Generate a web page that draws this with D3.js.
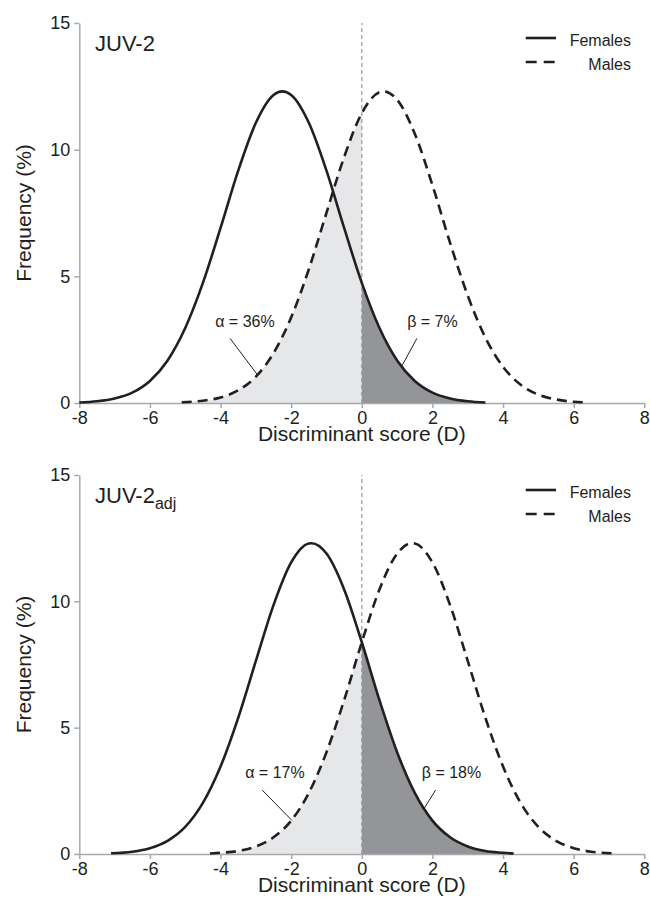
<!DOCTYPE html>
<html>
<head>
<meta charset="utf-8">
<script src="https://cdn.jsdelivr.net/npm/d3@7"></script>
<style>
  body { margin: 0; background: #fff; }
  svg { display: block; font-family: "Liberation Sans", Arial, sans-serif; }
</style>
</head>
<body>
<div id="chart"></div>
<script>
// Values (discriminant score D, frequency %)
const xTicks = [-8, -6, -4, -2, 0, 2, 4, 6, 8];
const yTicks = [0, 5, 10, 15];

// JUV-2
const juvFemaleX = [-8.0, -7.5, -7.0, -6.5, -6.0, -5.5, -5.0, -4.5, -4.0, -3.5, -3.0, -2.5, -2.25, -2.0, -1.5, -1.0, -0.5, 0, 0.5, 1.0, 1.5, 2.0, 2.5, 3.0, 3.5];
const juvFemaleY = [0.02, 0.07, 0.18, 0.41, 0.87, 1.68, 2.96, 4.74, 6.91, 9.17, 11.06, 12.16, 12.3, 12.16, 11.06, 9.17, 6.91, 4.74, 2.96, 1.68, 0.87, 0.41, 0.18, 0.07, 0.02];
const juvMaleX = [-5.1, -4.5, -4.0, -3.5, -3.0, -2.5, -2.0, -1.5, -1.0, -0.5, 0, 0.5, 0.62, 1.0, 1.5, 2.0, 2.5, 3.0, 3.5, 4.0, 4.5, 5.0, 5.5, 6.0, 6.3];
const juvMaleY = [0.03, 0.09, 0.22, 0.50, 1.04, 1.97, 3.38, 5.28, 7.51, 9.71, 11.44, 12.27, 12.3, 11.97, 10.63, 8.60, 6.32, 4.24, 2.58, 1.43, 0.72, 0.33, 0.14, 0.05, 0.03];

// JUV-2adj
const adjFemaleX = [-7.1, -6.5, -6.0, -5.5, -5.0, -4.5, -4.0, -3.5, -3.0, -2.5, -2.0, -1.5, -1.42, -1.0, -0.5, 0, 0.5, 1.0, 1.5, 2.0, 2.5, 3.0, 3.5, 4.0, 4.3];
const adjFemaleY = [0.03, 0.09, 0.23, 0.52, 1.07, 2.02, 3.46, 5.39, 7.64, 9.85, 11.54, 12.29, 12.3, 11.89, 10.47, 8.38, 6.09, 4.03, 2.42, 1.32, 0.66, 0.30, 0.12, 0.05, 0.02];
const adjMaleX = [-4.3, -4.0, -3.5, -3.0, -2.5, -2.0, -1.5, -1.0, -0.5, 0, 0.5, 1.0, 1.42, 1.5, 2.0, 2.5, 3.0, 3.5, 4.0, 4.5, 5.0, 5.5, 6.0, 6.5, 7.1];
const adjMaleY = [0.02, 0.05, 0.12, 0.30, 0.66, 1.32, 2.42, 4.03, 6.09, 8.38, 10.47, 11.89, 12.3, 12.29, 11.54, 9.85, 7.64, 5.39, 3.46, 2.02, 1.07, 0.52, 0.23, 0.09, 0.03];

const errorLabels = ['\u03b1 = 36%', '\u03b2 = 7%', '\u03b1 = 17%', '\u03b2 = 18%'];

const width = 650;
const height = 900;
const ink = '#231f20';
const axisGrey = '#a7a9ac';

const svg = d3.select('#chart')
    .append('svg')
    .attr('width', width)
    .attr('height', height);

const x = d3.scaleLinear().domain([-8, 8]).range([79.3, 644.3]);

function zip(xs, ys) {
    return xs.map((v, i) => ({ x: v, y: ys[i] }));
}

function drawPanel(cfg) {
    const y = d3.scaleLinear().domain([0, 15]).range([cfg.bottom, cfg.top]);
    const g = svg.append('g');

    const female = zip(cfg.femaleX, cfg.femaleY);
    const male = zip(cfg.maleX, cfg.maleY);

    const line = d3.line().x(d => x(d.x)).y(d => y(d.y)).curve(d3.curveMonotoneX);
    const area = d3.area().x(d => x(d.x)).y0(y(0)).y1(d => y(d.y)).curve(d3.curveMonotoneX);

    // alpha: males left of the cut-off, beta: females right of it
    g.append('path')
        .datum(male.filter(d => d.x <= 0))
        .attr('d', area)
        .attr('fill', '#e6e7e8');
    g.append('path')
        .datum(female.filter(d => d.x >= 0))
        .attr('d', area)
        .attr('fill', '#939598');

    // axes (plain hyphen minus like the original)
    const xAxis = g.append('g')
        .attr('transform', `translate(0,${cfg.bottom})`)
        .call(d3.axisBottom(x).tickValues(xTicks).tickFormat(d => String(d))
            .tickSize(5).tickSizeOuter(0).tickPadding(3));
    const yAxis = g.append('g')
        .attr('transform', `translate(${x(-8)},0)`)
        .call(d3.axisLeft(y).tickValues(yTicks).tickFormat(d => String(d))
            .tickSize(5).tickSizeOuter(0).tickPadding(4));
    [xAxis, yAxis].forEach(a => {
        a.select('.domain').attr('stroke', axisGrey).attr('stroke-width', 1.5);
        a.selectAll('.tick line').attr('stroke', axisGrey).attr('stroke-width', 1.5);
        a.selectAll('.tick text')
            .attr('fill', ink)
            .attr('font-size', '18px')
            .attr('font-family', '"Liberation Sans", Arial, sans-serif');
    });

    // cut-off line at D = 0
    g.append('line')
        .attr('x1', x(0)).attr('x2', x(0))
        .attr('y1', y(0)).attr('y2', y(15))
        .attr('stroke', '#9a9a9a')
        .attr('stroke-width', 1.2)
        .attr('stroke-dasharray', '4,3');

    // curves
    g.append('path')
        .datum(female)
        .attr('d', line)
        .attr('fill', 'none')
        .attr('stroke', ink)
        .attr('stroke-width', 2.6);
    g.append('path')
        .datum(male)
        .attr('d', line)
        .attr('fill', 'none')
        .attr('stroke', ink)
        .attr('stroke-width', 2.6)
        .attr('stroke-dasharray', '10,6');

    // error rate labels with leader lines
    cfg.notes.forEach(n => {
        g.append('text')
            .attr('x', x(n.tx))
            .attr('y', y(3.0))
            .attr('text-anchor', 'middle')
            .attr('font-size', '16px')
            .attr('fill', ink)
            .text(n.label);
        g.append('line')
            .attr('x1', x(n.from[0])).attr('y1', y(n.from[1]))
            .attr('x2', x(n.to[0])).attr('y2', y(n.to[1]))
            .attr('stroke', ink)
            .attr('stroke-width', 1);
    });

    // panel title
    const title = g.append('text')
        .attr('x', 95)
        .attr('y', cfg.top + 28)
        .attr('font-size', '22px')
        .attr('fill', ink)
        .text(cfg.title);
    if (cfg.sub) {
        title.append('tspan')
            .attr('dy', 6)
            .attr('font-size', '16px')
            .text(cfg.sub);
    }

    // legend
    const legend = [
        { name: 'Females', dash: null, dy: 15 },
        { name: 'Males', dash: '11,7', dy: 39 }
    ];
    legend.forEach(l => {
        g.append('line')
            .attr('x1', 525.7).attr('x2', 556)
            .attr('y1', cfg.top + l.dy).attr('y2', cfg.top + l.dy)
            .attr('stroke', ink)
            .attr('stroke-width', 2.6)
            .attr('stroke-dasharray', l.dash);
        g.append('text')
            .attr('x', 631)
            .attr('y', cfg.top + l.dy + 8)
            .attr('text-anchor', 'end')
            .attr('font-size', '16px')
            .attr('fill', ink)
            .text(l.name);
    });

    // axis titles
    g.append('text')
        .attr('x', x(0))
        .attr('y', cfg.bottom + 38)
        .attr('text-anchor', 'middle')
        .attr('font-size', '21px')
        .attr('fill', ink)
        .text('Discriminant score (D)');
    g.append('text')
        .attr('transform', `translate(31,${(cfg.top + cfg.bottom) / 2}) rotate(-90)`)
        .attr('text-anchor', 'middle')
        .attr('font-size', '21px')
        .attr('fill', ink)
        .text('Frequency (%)');
}

drawPanel({
    top: 23, bottom: 403, title: 'JUV-2', sub: null,
    femaleX: juvFemaleX, femaleY: juvFemaleY, maleX: juvMaleX, maleY: juvMaleY,
    notes: [
        { label: errorLabels[0], tx: -3.31, from: [-3.73, 2.55], to: [-2.96, 1.12] },
        { label: errorLabels[1], tx: 2.0, from: [1.56, 2.55], to: [1.13, 1.45] }
    ]
});

drawPanel({
    top: 475, bottom: 854, title: 'JUV-2', sub: 'adj',
    femaleX: adjFemaleX, femaleY: adjFemaleY, maleX: adjMaleX, maleY: adjMaleY,
    notes: [
        { label: errorLabels[2], tx: -2.46, from: [-2.82, 2.53], to: [-1.98, 1.33] },
        { label: errorLabels[3], tx: 2.54, from: [2.09, 2.53], to: [1.74, 1.75] }
    ]
});
</script>
</body>
</html>
